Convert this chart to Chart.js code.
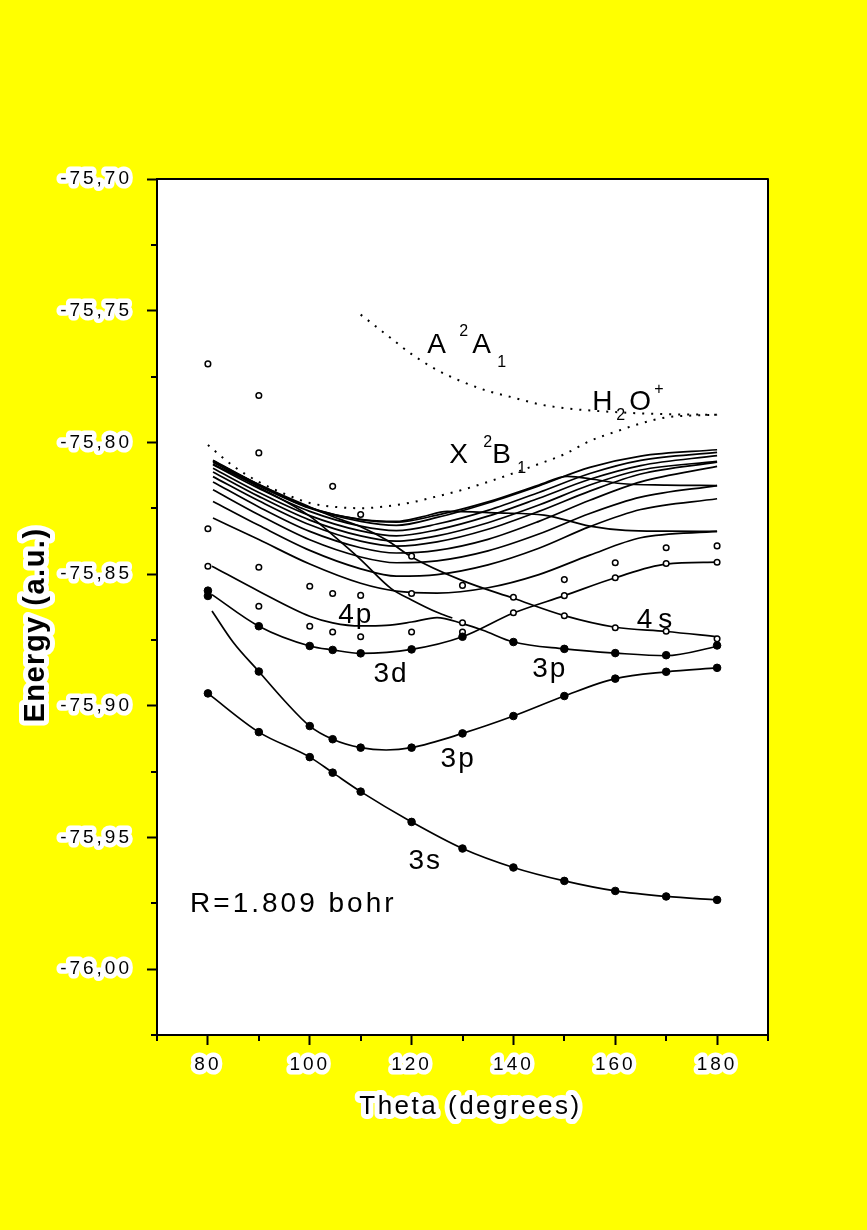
<!DOCTYPE html>
<html>
<head>
<meta charset="utf-8">
<script src="https://cdn.jsdelivr.net/npm/chart.js@4.4.1/dist/chart.umd.min.js"></script>
<style>
  html, body { margin: 0; padding: 0; background: #ffff00; }
  #wrap { width: 867px; height: 1230px; }
</style>
</head>
<body>
<div id="wrap"><canvas id="chart" width="867" height="1230"></canvas></div>
<script>
// ===== AXES =====
const xMajor = [80, 100, 120, 140, 160, 180];
const xMinor = [70, 90, 110, 130, 150, 170, 190];
const yMajor = [-75.70, -75.75, -75.80, -75.85, -75.90, -75.95, -76.00];
const yMinor = [-75.725, -75.775, -75.825, -75.875, -75.925, -75.975, -76.025];

// ===== FITTED CURVES (theta in degrees, energy in a.u.) =====
const theta3s = [80, 90, 100, 104.5, 110, 120, 130, 140, 150, 160, 170, 180];
const energy3s = [-75.8953, -75.9100, -75.9195, -75.9254, -75.9326, -75.9441, -75.9542, -75.9614, -75.9665, -75.9703, -75.9724, -75.9737];

const theta3pLow = [80.8, 85, 90, 95, 100, 104.5, 110, 115, 120, 130, 140, 150, 160, 170, 180];
const energy3pLow = [-75.8640, -75.8760, -75.8870, -75.8980, -75.9077, -75.9127, -75.9159, -75.9168, -75.9159, -75.9105, -75.9039, -75.8963, -75.8897, -75.8871, -75.8856];

const theta3d = [80.8, 90, 100, 104.5, 110, 120, 130, 140, 150, 160, 170, 180];
const energy3d = [-75.8578, -75.8698, -75.8773, -75.8788, -75.8801, -75.8786, -75.8738, -75.8648, -75.8582, -75.8514, -75.8462, -75.8455];

const theta4p = [80.8, 90, 100, 104.5, 110, 115, 120, 125, 130, 134, 140, 150, 160, 170, 180];
const energy4p = [-75.8470, -75.8565, -75.8660, -75.8685, -75.8697, -75.8695, -75.8682, -75.8665, -75.8688, -75.8713, -75.8758, -75.8784, -75.8800, -75.8810, -75.8775];

const theta3pUp = [81, 90, 100, 105, 110, 116, 120, 125, 128];
const energy3pUp = [-75.8082, -75.8170, -75.8280, -75.8360, -75.8445, -75.8555, -75.8598, -75.8645, -75.8667];

const theta4s = [81, 90, 100, 105, 110, 115, 120, 130, 140, 150, 160, 170, 180];
const energy4s = [-75.8072, -75.8160, -75.8245, -75.8285, -75.8320, -75.8370, -75.8435, -75.8525, -75.8592, -75.8658, -75.8702, -75.8718, -75.8738];

const thetaFlatA = [81, 90, 100, 110, 117, 125, 135, 145, 150.6, 156, 161, 170, 180];
const energyFlatA = [-75.8070, -75.8162, -75.8248, -75.8293, -75.8303, -75.8276, -75.8226, -75.8162, -75.8129, -75.8141, -75.8156, -75.8162, -75.8164];

const thetaFlatB = [81, 90, 100, 110, 117, 122, 127, 137, 146, 155, 162, 170, 180];
const energyFlatB = [-75.8068, -75.8160, -75.8247, -75.8292, -75.8300, -75.8283, -75.8262, -75.8268, -75.8276, -75.8318, -75.8334, -75.8337, -75.8338];

// higher Rydberg bundle converging to X 2B1
const thetaBundle = [81, 90, 100, 110, 117, 125, 135, 145, 155, 165, 180];
const rydberg1 = [-75.8075, -75.8165, -75.8250, -75.8300, -75.8315, -75.8285, -75.8230, -75.8165, -75.8095, -75.8052, -75.8028];
const rydberg2 = [-75.8085, -75.8175, -75.8262, -75.8318, -75.8335, -75.8310, -75.8258, -75.8190, -75.8118, -75.8068, -75.8038];
const rydberg3 = [-75.8098, -75.8190, -75.8278, -75.8336, -75.8355, -75.8332, -75.8280, -75.8212, -75.8140, -75.8088, -75.8050];
const rydberg4 = [-75.8112, -75.8205, -75.8295, -75.8355, -75.8375, -75.8355, -75.8305, -75.8238, -75.8162, -75.8105, -75.8072];
const rydberg5 = [-75.8130, -75.8222, -75.8313, -75.8375, -75.8394, -75.8378, -75.8330, -75.8262, -75.8185, -75.8120, -75.8075];
const rydberg6 = [-75.8150, -75.8245, -75.8338, -75.8400, -75.8420, -75.8410, -75.8368, -75.8300, -75.8220, -75.8150, -75.8091];
const rydberg7 = [-75.8180, -75.8275, -75.8370, -75.8435, -75.8457, -75.8450, -75.8412, -75.8348, -75.8270, -75.8208, -75.8164];
const rydberg8 = [-75.8224, -75.8315, -75.8410, -75.8480, -75.8508, -75.8502, -75.8465, -75.8402, -75.8320, -75.8255, -75.8214];
const rydberg9 = [-75.8287, -75.8369, -75.8462, -75.8535, -75.8565, -75.8572, -75.8552, -75.8502, -75.8428, -75.8362, -75.8338];

// ion states (dotted)
const thetaIonX = [80, 85, 90, 95, 100, 105, 110, 115, 120, 125, 130, 135, 140, 145, 150, 155, 160, 165, 170, 175, 180];
const energyIonX = [-75.8010, -75.8090, -75.8150, -75.8195, -75.8230, -75.8245, -75.8250, -75.8243, -75.8228, -75.8205, -75.8180, -75.8150, -75.8117, -75.8082, -75.8045, -75.7995, -75.7960, -75.7928, -75.7905, -75.7898, -75.7895];
const thetaIonA = [110, 115, 120, 125, 130, 135, 140, 145, 150, 160, 170, 180];
const energyIonA = [-75.7515, -75.7590, -75.7665, -75.7725, -75.7770, -75.7805, -75.7830, -75.7855, -75.7870, -75.7885, -75.7893, -75.7895];

// ===== COMPUTED POINTS =====
const filledTheta = [80, 90, 100, 104.5, 110, 120, 130, 140, 150, 160, 170, 180,
  90, 100, 104.5, 110, 120, 130, 140, 150, 160, 170, 180,
  80, 80, 90, 100, 104.5, 110, 120, 130,
  140, 150, 160, 170, 180];
const filledEnergy = [-75.8953, -75.9100, -75.9195, -75.9254, -75.9326, -75.9441, -75.9542, -75.9614, -75.9665, -75.9703, -75.9724, -75.9737,
  -75.8870, -75.9077, -75.9127, -75.9159, -75.9159, -75.9105, -75.9039, -75.8963, -75.8897, -75.8871, -75.8856,
  -75.8563, -75.8583, -75.8698, -75.8773, -75.8788, -75.8801, -75.8786, -75.8738,
  -75.8758, -75.8784, -75.8800, -75.8808, -75.8771];

const openTheta = [80, 90, 90, 104.5, 110,
  80, 80, 90, 100, 104.5, 110, 120, 120,
  90, 100, 104.5, 110, 120,
  130, 130, 130, 140, 140,
  150, 150, 150, 160, 160, 160,
  170, 170, 170, 180, 180, 180];
const openEnergy = [-75.7702, -75.7822, -75.8040, -75.8167, -75.8274,
  -75.8328, -75.8470, -75.8474, -75.8546, -75.8574, -75.8581, -75.8432, -75.8574,
  -75.8622, -75.8698, -75.8720, -75.8738, -75.8720,
  -75.8543, -75.8685, -75.8720, -75.8588, -75.8647,
  -75.8521, -75.8582, -75.8658, -75.8457, -75.8514, -75.8704,
  -75.8400, -75.8460, -75.8717, -75.8393, -75.8455, -75.8746];

// ===== BUILD DATASETS =====
const pairs = (xs, ys) => xs.map((x, i) => ({ x, y: ys[i] }));

const solidCurves = [
  [theta3s, energy3s], [theta3pLow, energy3pLow], [theta3d, energy3d], [theta4p, energy4p],
  [theta3pUp, energy3pUp], [theta4s, energy4s], [thetaFlatA, energyFlatA], [thetaFlatB, energyFlatB],
  [thetaBundle, rydberg1], [thetaBundle, rydberg2], [thetaBundle, rydberg3], [thetaBundle, rydberg4],
  [thetaBundle, rydberg5], [thetaBundle, rydberg6], [thetaBundle, rydberg7], [thetaBundle, rydberg8],
  [thetaBundle, rydberg9],
];

const datasets = solidCurves.map(([xs, ys]) => ({
  data: pairs(xs, ys),
  showLine: true,
  borderColor: '#000',
  borderWidth: 1.7,
  pointRadius: 0,
  cubicInterpolationMode: 'monotone',
  order: 2,
}));

[[thetaIonX, energyIonX], [thetaIonA, energyIonA]].forEach(([xs, ys]) => {
  datasets.push({
    data: pairs(xs, ys),
    showLine: true,
    borderColor: '#000',
    borderWidth: 2,
    borderDash: [2, 7],
    borderCapStyle: 'butt',
    pointRadius: 0,
    cubicInterpolationMode: 'monotone',
    order: 2,
  });
});

datasets.push({
  data: pairs(openTheta, openEnergy),
  showLine: false,
  pointRadius: 2.8,
  pointBackgroundColor: '#fff',
  pointBorderColor: '#000',
  pointBorderWidth: 1.5,
  order: 1,
});
datasets.push({
  data: pairs(filledTheta, filledEnergy),
  showLine: false,
  pointRadius: 3.8,
  pointBackgroundColor: '#000',
  pointBorderColor: '#000',
  pointBorderWidth: 1,
  order: 0,
});

// ===== DECORATION PLUGIN =====
const FONT = "Arial, 'Liberation Sans', sans-serif";

function text(ctx, str, x, y, size, spacing, opts = {}) {
  ctx.save();
  ctx.font = (opts.bold ? 'bold ' : '') + size + 'px ' + FONT;
  ctx.letterSpacing = spacing + 'px';
  ctx.textAlign = opts.align || 'left';
  ctx.textBaseline = opts.baseline || 'alphabetic';
  ctx.fillStyle = '#000';
  if (opts.halo) {
    ctx.lineJoin = 'round';
    ctx.strokeStyle = '#fff';
    ctx.lineWidth = opts.halo;
    ctx.strokeText(str, x, y);
  }
  ctx.fillText(str, x, y);
  ctx.restore();
}

const decor = {
  id: 'decor',
  beforeDraw(chart) {
    const { ctx, chartArea: a } = chart;
    ctx.save();
    ctx.fillStyle = '#ffff00';
    ctx.fillRect(0, 0, chart.width, chart.height);
    ctx.fillStyle = '#fff';
    ctx.fillRect(a.left, a.top, a.right - a.left, a.bottom - a.top);
    ctx.restore();
    ctx.letterSpacing = '3px';
    ctx.lineJoin = 'round';
  },
  afterDraw(chart) {
    const { ctx, chartArea: a, scales } = chart;
    const xs = scales.x, ys = scales.y;
    ctx.letterSpacing = '0px';

    // frame top + right
    ctx.save();
    ctx.strokeStyle = '#000';
    ctx.lineWidth = 2;
    ctx.beginPath();
    ctx.moveTo(a.left, a.top);
    ctx.lineTo(a.right, a.top);
    ctx.lineTo(a.right, a.bottom);
    ctx.stroke();

    // minor ticks
    ctx.beginPath();
    xMinor.forEach(v => {
      const px = Math.round(xs.getPixelForValue(v));
      ctx.moveTo(px, a.bottom);
      ctx.lineTo(px, a.bottom + 6);
    });
    yMinor.forEach(v => {
      const py = Math.round(ys.getPixelForValue(v));
      ctx.moveTo(a.left, py);
      ctx.lineTo(a.left - 6, py);
    });
    ctx.stroke();
    ctx.restore();

    // axis titles
    text(ctx, 'Theta (degrees)', (a.left + a.right) / 2 + 8, a.bottom + 72, 26, 2.5,
      { align: 'center', baseline: 'middle', halo: 10 });
    ctx.save();
    ctx.translate(36, 625);
    ctx.rotate(-Math.PI / 2);
    text(ctx, 'Energy (a.u.)', 0, 0, 29, 1.5, { bold: true, align: 'center', baseline: 'middle', halo: 10 });
    ctx.restore();

    // state labels anchored in data space
    const P = (tx, ey) => [xs.getPixelForValue(tx), ys.getPixelForValue(ey)];
    const big = 28, small = 16;

    let [x, y] = P(123.1, -75.7660);
    text(ctx, 'A', x, y, big, 0);
    text(ctx, '2', x + 32, y - 17, small, 0);
    text(ctx, 'A', x + 45, y, big, 0);
    text(ctx, '1', x + 70, y + 14, small, 0);

    [x, y] = P(155.5, -75.7876);
    text(ctx, 'H', x, y, big, 0);
    text(ctx, '2', x + 24, y + 10, small, 0);
    text(ctx, 'O', x + 37, y, big, 0);
    text(ctx, '+', x + 62, y - 16, small, 0);

    [x, y] = P(127.4, -75.8077);
    text(ctx, 'X', x, y, big, 0);
    text(ctx, '2', x + 34, y - 16, small, 0);
    text(ctx, 'B', x + 43, y, big, 0);
    text(ctx, '1', x + 68, y + 10, small, 0);

    [x, y] = P(105.6, -75.8684); text(ctx, '4p', x, y, big, 2);
    [x, y] = P(112.5, -75.8911); text(ctx, '3d', x, y, big, 2);
    [x, y] = P(143.7, -75.8892); text(ctx, '3p', x, y, big, 2);
    [x, y] = P(164.2, -75.8703); text(ctx, '4s', x, y, big, 6);
    [x, y] = P(125.7, -75.9234); text(ctx, '3p', x, y, big, 2);
    [x, y] = P(119.4, -75.9621); text(ctx, '3s', x, y, big, 2);
    [x, y] = P(76.5, -75.9783); text(ctx, 'R=1.809 bohr', x, y, big, 3);
  },
};

new Chart(document.getElementById('chart'), {
  type: 'scatter',
  data: { datasets },
  plugins: [decor],
  options: {
    responsive: false,
    animation: false,
    devicePixelRatio: 1,
    layout: { padding: { top: 179, right: 99, left: 0, bottom: 0 } },
    plugins: { legend: { display: false }, tooltip: { enabled: false } },
    events: [],
    scales: {
      x: {
        type: 'linear',
        min: 70, max: 190,
        afterBuildTicks: s => { s.ticks = xMajor.map(v => ({ value: v })); },
        afterFit: s => { s.height = 195; },
        border: { color: '#000', width: 2 },
        grid: { drawOnChartArea: false, color: '#000', tickLength: 10, tickWidth: 2 },
        ticks: {
          color: '#000',
          font: { family: FONT, size: 19 },
          padding: 8,
          maxRotation: 0,
          autoSkip: false,
          textStrokeColor: '#fff',
          textStrokeWidth: 9,
          callback: v => String(v),
        },
      },
      y: {
        type: 'linear',
        min: -76.025, max: -75.70,
        afterBuildTicks: s => { s.ticks = yMajor.map(v => ({ value: v })); },
        afterFit: s => { s.width = 157; },
        border: { color: '#000', width: 2 },
        grid: { drawOnChartArea: false, color: '#000', tickLength: 10, tickWidth: 2 },
        ticks: {
          color: '#000',
          font: { family: FONT, size: 19 },
          padding: 15,
          autoSkip: false,
          textStrokeColor: '#fff',
          textStrokeWidth: 9,
          callback: v => v.toFixed(2).replace('.', ','),
        },
      },
    },
  },
});
</script>
</body>
</html>
